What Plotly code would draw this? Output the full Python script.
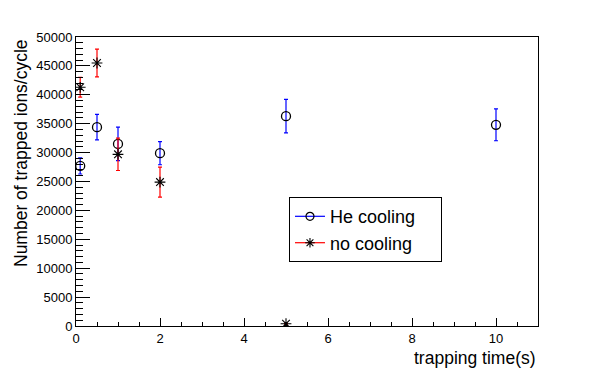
import plotly.graph_objects as go

# He cooling
he_t = [0.1, 0.5, 1, 2, 5, 10]
he_n = [27700, 34400, 31500, 29900, 36300, 34800]
he_err = [1400, 2200, 2900, 2000, 2900, 2750]

# no cooling
no_t = [0.1, 0.5, 1, 2, 5]
no_n = [41300, 45500, 29700, 24900, 400]
no_err = [1700, 2400, 2800, 2600, 100]

fig = go.Figure()

fig.add_trace(go.Scatter(x=he_t, y=he_n, mode='markers', showlegend=False,
                         marker=dict(symbol='circle-open', size=9, color='black', line=dict(width=1.3)),
                         error_y=dict(type='data', array=he_err, color='blue', thickness=1.2, width=2)))
fig.add_trace(go.Scatter(x=no_t, y=no_n, mode='markers', showlegend=False,
                         marker=dict(symbol='asterisk-open', size=9, color='black', line=dict(width=1.1, color='black')),
                         error_y=dict(type='data', array=no_err, color='red', thickness=1.2, width=2)))

# legend entries
pad = '\u00a0' * 4
fig.add_trace(go.Scatter(x=[None], y=[None], mode='lines+markers', name='He cooling' + pad,
                         line=dict(color='blue', width=1.2),
                         marker=dict(symbol='circle-open', size=8, color='black', line=dict(width=1.2))))
fig.add_trace(go.Scatter(x=[None], y=[None], mode='lines+markers', name='no cooling' + pad,
                         line=dict(color='red', width=1.2),
                         marker=dict(symbol='asterisk-open', size=8, color='black', line=dict(width=1.1, color='black'))))

axis_common = dict(showgrid=False, zeroline=False, showline=True, linecolor='black', linewidth=1,
                   mirror=True, ticks='inside', tickcolor='black',
                   tickfont=dict(size=13, color='black'))

fig.update_xaxes(range=[0, 11], dtick=2, tick0=0, ticklen=8,
                 minor=dict(dtick=0.5, ticks='inside', ticklen=4, tickcolor='black'),
                 **axis_common)
fig.update_yaxes(range=[0, 50000], dtick=5000, tick0=0, ticklen=14, tickformat='d',
                 minor=dict(dtick=1000, ticks='inside', ticklen=7, tickcolor='black'),
                 **axis_common)

fig.add_annotation(text='trapping time(s)', xref='paper', yref='paper', x=1, y=-0.07,
                   xanchor='right', yanchor='top', showarrow=False, font=dict(size=17.5, color='black'))
fig.add_annotation(text='Number of trapped ions/cycle', xref='paper', yref='paper', x=-0.145, y=1.0,
                   xanchor='left', yanchor='top', textangle=-90, showarrow=False,
                   font=dict(size=17.5, color='black'))

# page body has an 8px margin, so the figure is shifted by 8px
fig.update_layout(width=590, height=368, margin=dict(l=68, r=60, t=29, b=50),
                  plot_bgcolor='white', paper_bgcolor='white',
                  font=dict(family='Liberation Sans, Arial, sans-serif', color='black'),
                  legend=dict(x=0.461, y=0.446, xanchor='left', yanchor='top',
                              bordercolor='black', borderwidth=1, bgcolor='white',
                              font=dict(size=18), tracegroupgap=0, itemwidth=30))

fig.write_html("out.html")
